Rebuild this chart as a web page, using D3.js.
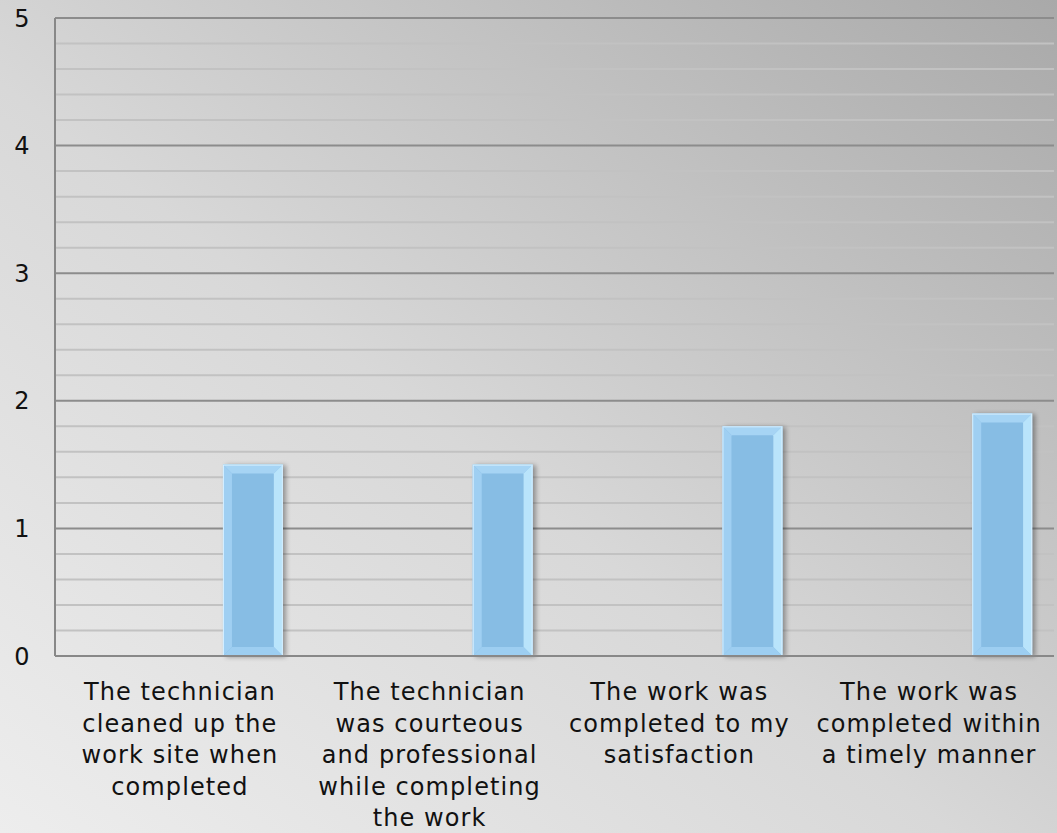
<!DOCTYPE html>
<html><head><meta charset="utf-8">
<script src="https://cdn.jsdelivr.net/npm/d3@7"></script>
<style>html,body{margin:0;padding:0;overflow:hidden;}svg{display:block;}</style>
</head><body>
<svg id="chart" width="1057" height="833"></svg>
<script>
const categories = [
  ["The technician","cleaned up the","work site when","completed"],
  ["The technician","was courteous","and professional","while completing","the work"],
  ["The work was","completed to my","satisfaction"],
  ["The work was","completed within","a timely manner"]
];
const seriesNames = ["Series A", "Score"];
const seriesA = [null, null, null, null];
const scores = [1.5, 1.5, 1.8, 1.9];
const yTicks = [0, 1, 2, 3, 4, 5];
const minorTicks = d3.range(0, 5.001, 0.2);

const W = 1057, H = 833;
const m = {left: 55, right: 3, top: 18, bottom: 177};
const svg = d3.select("#chart");
const defs = svg.append("defs");
const bg = defs.append("linearGradient").attr("id","bg").attr("x1","0").attr("y1","1").attr("x2","1").attr("y2","0");
bg.append("stop").attr("offset","0").attr("stop-color","#ededed");
bg.append("stop").attr("offset","0.45").attr("stop-color","#d8d8d8");
bg.append("stop").attr("offset","1").attr("stop-color","#a9a9a9");
const sh = defs.append("filter").attr("id","shadow").attr("x","-20%").attr("y","-10%").attr("width","150%").attr("height","130%");
sh.append("feGaussianBlur").attr("in","SourceAlpha").attr("stdDeviation","2.5");
sh.append("feOffset").attr("dx","3").attr("dy","1").attr("result","o");
sh.append("feComponentTransfer").append("feFuncA").attr("type","linear").attr("slope","0.35");
const mg = sh.append("feMerge"); mg.append("feMergeNode"); mg.append("feMergeNode").attr("in","SourceGraphic");

svg.append("rect").attr("width",W).attr("height",H).attr("fill","url(#bg)");

const x = d3.scaleBand().domain(d3.range(categories.length)).range([m.left, W - m.right]);
const x1 = d3.scaleBand().domain(seriesNames).range([0, x.bandwidth()]).paddingInner(0.59).paddingOuter(0.15);
const y = d3.scaleLinear().domain([0, 5]).range([H - m.bottom, m.top]);

// minor grid
svg.append("g").selectAll("line").data(minorTicks.filter(v => Math.abs(v - Math.round(v)) > 1e-6))
  .join("line").attr("x1", m.left).attr("x2", W - m.right)
  .attr("y1", d => y(d)).attr("y2", d => y(d))
  .attr("stroke", "#c2c2c2").attr("stroke-width", 2);
// major grid
svg.append("g").selectAll("line").data(yTicks.filter(v => v > 0))
  .join("line").attr("x1", m.left).attr("x2", W - m.right)
  .attr("y1", d => y(d)).attr("y2", d => y(d))
  .attr("stroke", "#8c8c8c").attr("stroke-width", 2);

// bars
const bw = x1.bandwidth(), bv = 9;
const barG = svg.append("g");
scores.forEach((v, i) => {
  if (v == null) return;
  const x0 = x(i) + x1("Score"), xr = x0 + bw, yt = y(v), yb = y(0);
  const g = barG.append("g").attr("filter","url(#shadow)");
  g.append("rect").attr("x", x0).attr("y", yt).attr("width", bw).attr("height", yb - yt).attr("fill", "#87bde4");
  const pt = a => a.map(p => p.join(",")).join(" ");
  g.append("polygon").attr("points", pt([[x0,yt],[xr,yt],[xr-bv,yt+bv],[x0+bv,yt+bv]])).attr("fill","#a6d4f4");
  g.append("polygon").attr("points", pt([[x0,yt],[x0+bv,yt+bv],[x0+bv,yb-bv],[x0,yb]])).attr("fill","#9fcff2");
  g.append("polygon").attr("points", pt([[xr,yt],[xr-bv,yt+bv],[xr-bv,yb-bv],[xr,yb]])).attr("fill","#b9e4fb");
  g.append("polygon").attr("points", pt([[x0,yb],[x0+bv,yb-bv],[xr-bv,yb-bv],[xr,yb]])).attr("fill","#9dcef1");
  g.append("rect").attr("x", x0+0.5).attr("y", yt+0.5).attr("width", bw-1).attr("height", yb-yt-1)
    .attr("fill","none").attr("stroke","#d6efff").attr("stroke-width",1);
});

// axes lines
svg.append("line").attr("x1", m.left).attr("x2", m.left).attr("y1", y(5)).attr("y2", y(0))
  .attr("stroke","#888").attr("stroke-width",2);
svg.append("line").attr("x1", m.left).attr("x2", W - m.right).attr("y1", y(0)).attr("y2", y(0))
  .attr("stroke","#888").attr("stroke-width",2);

const font = "'DejaVu Sans', Verdana, sans-serif";
// y labels
svg.append("g").selectAll("text").data(yTicks).join("text")
  .attr("x", 22).attr("y", d => y(d)).attr("dy","0.36em").attr("text-anchor","middle")
  .attr("font-family", font).attr("font-size", 24).attr("fill","#111").text(d => d);

// x labels
const xl = svg.append("g");
categories.forEach((lines, i) => {
  const t = xl.append("text").attr("text-anchor","middle").attr("font-family", font)
    .attr("font-size", 24).attr("letter-spacing", 1.1).attr("fill","#111");
  lines.forEach((ln, j) => {
    t.append("tspan").attr("x", x(i) + x.bandwidth()/2).attr("y", 700 + j*31.6).text(ln);
  });
});
</script>
</body></html>
